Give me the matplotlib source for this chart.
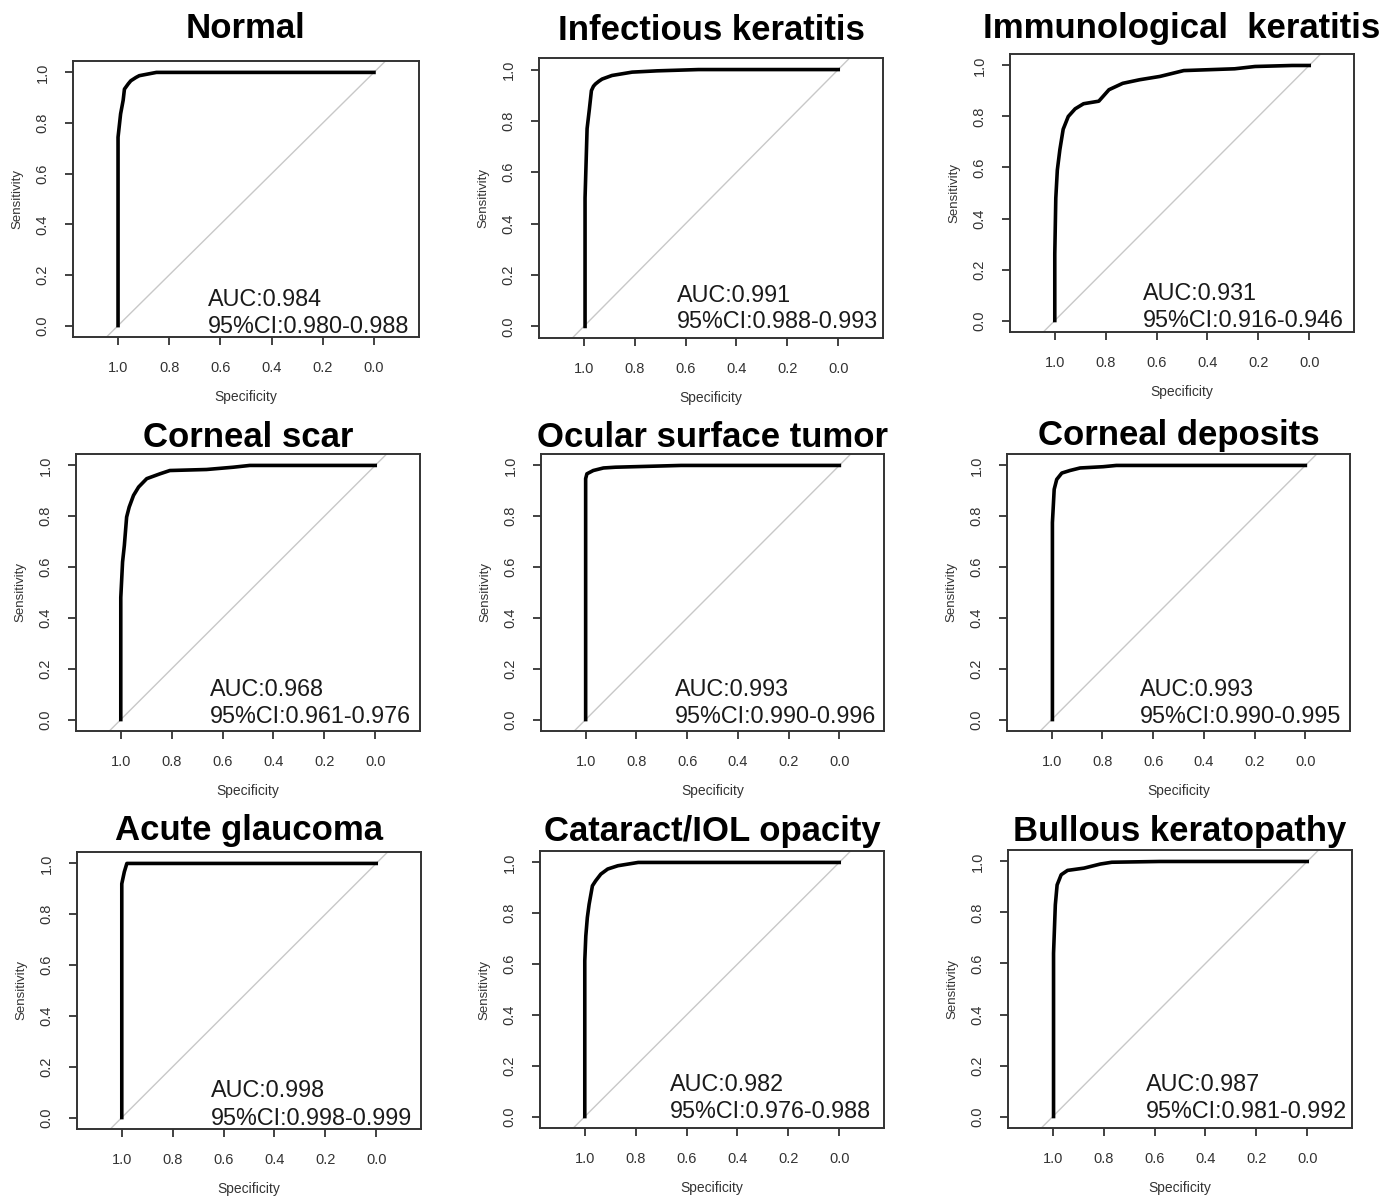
import matplotlib
matplotlib.use("Agg")
import matplotlib.pyplot as plt

plt.rcParams['font.family'] = ['Liberation Sans', 'DejaVu Sans']

# panel titles and AUC text
titles = ["Normal", "Infectious keratitis", "Immunological  keratitis",
          "Corneal scar", "Ocular surface tumor", "Corneal deposits",
          "Acute glaucoma", "Cataract/IOL opacity", "Bullous keratopathy"]
auc_vals = ["0.984", "0.991", "0.931", "0.968", "0.993", "0.993", "0.998", "0.982", "0.987"]
ci_vals = ["0.980-0.988", "0.988-0.993", "0.916-0.946", "0.961-0.976", "0.990-0.996",
           "0.990-0.995", "0.998-0.999", "0.976-0.988", "0.981-0.992"]

# ROC points (specificity, sensitivity)
normal_spec = [1.0, 1.0, 0.99, 0.98, 0.975, 0.96, 0.95, 0.93, 0.917, 0.85, 0.0]
normal_sens = [0.0, 0.744, 0.836, 0.89, 0.934, 0.955, 0.967, 0.98, 0.987, 1.0, 1.0]

infect_spec = [0.995, 0.995, 0.987, 0.978, 0.97, 0.962, 0.954, 0.94, 0.928, 0.889, 0.81,
               0.712, 0.549, 0.0]
infect_sens = [0.0, 0.50, 0.77, 0.846, 0.918, 0.935, 0.944, 0.955, 0.963, 0.977, 0.99,
               0.995, 1.0, 1.0]

immuno_spec = [1.0, 1.0, 0.996, 0.99, 0.98, 0.967, 0.947, 0.92, 0.887, 0.827, 0.787,
               0.733, 0.667, 0.587, 0.493, 0.293, 0.213, 0.067, 0.0]
immuno_sens = [0.0, 0.26, 0.48, 0.59, 0.67, 0.75, 0.80, 0.83, 0.85, 0.86, 0.905,
               0.93, 0.944, 0.957, 0.98, 0.987, 0.996, 1.0, 1.0]

scar_spec = [1.0, 1.0, 0.993, 0.986, 0.977, 0.967, 0.95, 0.93, 0.898, 0.846, 0.807,
             0.663, 0.558, 0.493, 0.0]
scar_sens = [0.0, 0.48, 0.62, 0.685, 0.797, 0.836, 0.882, 0.915, 0.948, 0.967, 0.98,
             0.984, 0.993, 1.0, 1.0]

tumor_spec = [1.0, 1.0, 0.995, 0.97, 0.93, 0.883, 0.624, 0.0]
tumor_sens = [0.0, 0.948, 0.967, 0.98, 0.99, 0.993, 1.0, 1.0]

deposit_spec = [0.997, 0.997, 0.99, 0.98, 0.96, 0.928, 0.888, 0.797, 0.745, 0.0]
deposit_sens = [0.0, 0.775, 0.906, 0.945, 0.97, 0.98, 0.99, 0.995, 1.0, 1.0]

glaucoma_spec = [1.0, 1.0, 0.99, 0.98, 0.0]
glaucoma_sens = [0.0, 0.92, 0.967, 1.0, 1.0]

cataract_spec = [1.0, 1.0, 0.996, 0.99, 0.983, 0.97, 0.957, 0.937, 0.91, 0.87, 0.79, 0.0]
cataract_sens = [0.0, 0.613, 0.71, 0.783, 0.835, 0.908, 0.928, 0.954, 0.974, 0.987, 1.0, 1.0]

bullous_spec = [0.997, 0.997, 0.99, 0.983, 0.967, 0.942, 0.877, 0.813, 0.768, 0.58, 0.0]
bullous_sens = [0.0, 0.64, 0.83, 0.908, 0.948, 0.965, 0.974, 0.99, 0.997, 1.0, 1.0]

curves = [(normal_spec, normal_sens), (infect_spec, infect_sens), (immuno_spec, immuno_sens),
          (scar_spec, scar_sens), (tumor_spec, tumor_sens), (deposit_spec, deposit_sens),
          (glaucoma_spec, glaucoma_sens), (cataract_spec, cataract_sens), (bullous_spec, bullous_sens)]

ticks = [1.0, 0.8, 0.6, 0.4, 0.2, 0.0]

# layout in pixels: box left, top, right, bottom, title baseline
W, H = 1389, 1198
boxes = [(73, 61, 419, 337, 38), (539, 58, 883, 338, 40), (1010, 54, 1354, 332, 38),
         (76, 454, 420, 731, 447), (541, 454, 884, 731, 447), (1007, 454, 1350, 731, 445),
         (77, 852, 421, 1129, 840), (540, 851, 884, 1128, 841), (1008, 850, 1352, 1128, 841)]
# AUC text anchor (data coords): x, AUC baseline, CI baseline
text_pos = [(0.648, 0.079, -0.028), (0.635, 0.094, -0.008), (0.655, 0.082, -0.024),
            (0.65, 0.094, -0.012), (0.647, 0.094, -0.012), (0.651, 0.094, -0.012),
            (0.65, 0.079, -0.028), (0.667, 0.102, -0.004), (0.635, 0.102, -0.004)]

fig = plt.figure(figsize=(W / 100, H / 100), dpi=100)

for i in range(9):
    l, t, r, b, tb = boxes[i]
    ax = fig.add_axes([l / W, 1 - b / H, (r - l) / W, (b - t) / H])
    spec, sens = curves[i]
    ax.axline((1, 0), (0, 1), color='#c8c8c8', lw=1.0, zorder=1)
    ax.plot(spec, sens, color='black', lw=2.6, zorder=3)
    ax.set_xlim(1.176, -0.176)
    ax.set_ylim(-0.045, 1.045)
    ax.set_xticks(ticks)
    ax.set_xticklabels([f"{v:.1f}" for v in ticks])
    ax.set_yticks(ticks)
    ax.set_yticklabels([f"{v:.1f}" for v in ticks], rotation=90, va='center')
    ax.tick_params(direction='out', length=6, width=1.3, colors='#333333',
                   labelsize=10.5, pad=11)
    for s in ax.spines.values():
        s.set_color('#333333')
        s.set_linewidth(1.4)

    tx, ya, yc = text_pos[i]
    ax.text(tx, ya, "AUC:" + auc_vals[i], fontsize=16.8, color='#1a1a1a',
            ha='left', va='baseline')
    ax.text(tx, yc, "95%CI:" + ci_vals[i], fontsize=16.8, color='#1a1a1a',
            ha='left', va='baseline')

    fig.text((l + r) / 2 / W, 1 - tb / H, titles[i], fontsize=25, fontweight='bold',
             ha='center', va='baseline')
    fig.text((l - 56) / W, 1 - (t + b) / 2 / H, "Sensitivity", fontsize=9.5,
             rotation=90, ha='center', va='center', color='#333333')
    fig.text((l + r) / 2 / W, 1 - (b + 60) / H, "Specificity", fontsize=10,
             ha='center', va='center', color='#333333')

fig.savefig("out.png", dpi=100)
